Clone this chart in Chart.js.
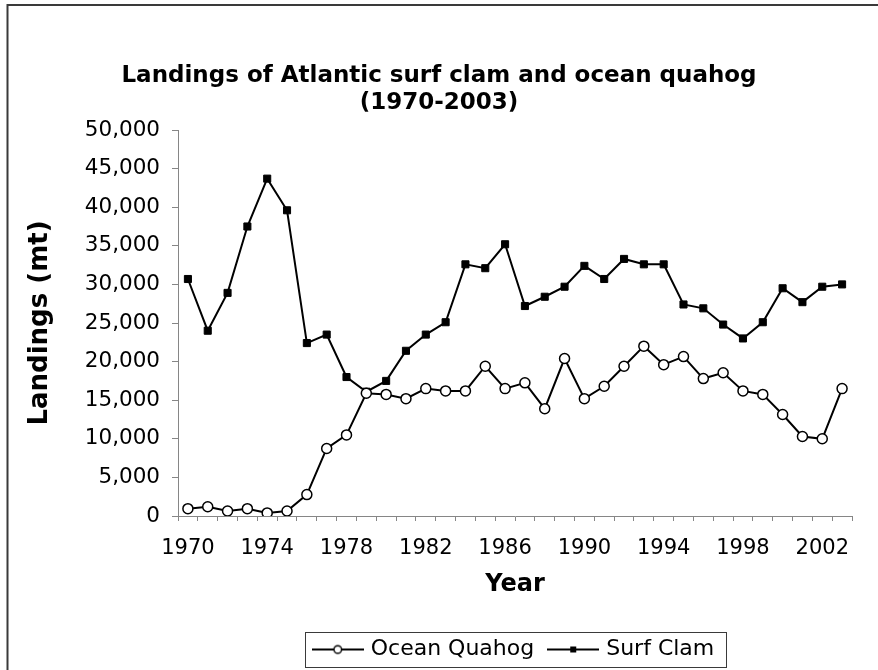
<!DOCTYPE html>
<html>
<head>
<meta charset="utf-8">
<title>Landings of Atlantic surf clam and ocean quahog</title>
<script src="https://cdn.jsdelivr.net/npm/chart.js@4/dist/chart.umd.min.js"></script>
<style>
  html, body { margin: 0; padding: 0; background: #ffffff; }
  canvas { display: block; }
</style>
</head>
<body>
<canvas id="landings" width="878" height="670"></canvas>
<script>
// Landing years and the two series, in metric tonnes
const years = [1970, 1971, 1972, 1973, 1974, 1975, 1976, 1977, 1978, 1979,
               1980, 1981, 1982, 1983, 1984, 1985, 1986, 1987, 1988, 1989,
               1990, 1991, 1992, 1993, 1994, 1995, 1996, 1997, 1998, 1999,
               2000, 2001, 2002, 2003];

const oceanQuahog = [950, 1200, 650, 950, 400, 650, 2770, 8750, 10500, 15900,
                     15750, 15200, 16500, 16200, 16200, 19400, 16500, 17250, 13900, 20400,
                     15200, 16800, 19400, 22000, 19600, 20650, 17800, 18550, 16200, 15750,
                     13150, 10300, 10000, 16500];

const surfClam = [30700, 24000, 28900, 37500, 43700, 39600, 22400, 23500, 18000, 16100,
                  17500, 21400, 23500, 25100, 32600, 32100, 35200, 27200, 28400, 29700,
                  32400, 30700, 33300, 32600, 32600, 27400, 26900, 24800, 23000, 25100,
                  29500, 27700, 29700, 30000];

// Years that carry a label on the category axis
const labelledYears = [1970, 1974, 1978, 1982, 1986, 1990, 1994, 1998, 2002];

const FONT = 'DejaVu Sans';
const AXIS_GREY = '#868686';

Chart.defaults.color = '#000000';
Chart.defaults.font.family = FONT;

// Small line-with-marker swatches for the legend
function legendSwatch(kind) {
  const c = document.createElement('canvas');
  c.width = 52; c.height = 16;
  const g = c.getContext('2d');
  g.fillStyle = '#000';
  g.fillRect(0, 7, 52, 2);
  if (kind === 'circle') {
    g.fillStyle = '#fff'; g.strokeStyle = '#000'; g.lineWidth = 1.4;
    g.beginPath(); g.arc(26, 8, 3.8, 0, Math.PI * 2); g.fill(); g.stroke();
  } else {
    g.fillStyle = '#000';
    g.fillRect(23, 5, 6, 6);
  }
  return c;
}

// Outer frame of the chart
const framePlugin = {
  id: 'frame',
  beforeDraw(chart) {
    const ctx = chart.ctx;
    ctx.save();
    ctx.fillStyle = '#ffffff';
    ctx.fillRect(0, 0, chart.width, chart.height);
    ctx.strokeStyle = '#3a3a3a';
    ctx.lineWidth = 2;
    ctx.beginPath();
    ctx.moveTo(7.5, chart.height);
    ctx.lineTo(7.5, 5);
    ctx.lineTo(chart.width, 5);
    ctx.stroke();
    ctx.restore();
  }
};

// Centre the legend under the plot area and box it in
const legendBoxPlugin = {
  id: 'legendBox',
  afterLayout(chart) {
    const lg = chart.legend;
    if (lg) { lg.left = chart.chartArea.left; lg.right = chart.chartArea.right; }
  },
  afterDraw(chart) {
    const lg = chart.legend;
    if (!lg || !lg.legendHitBoxes.length) return;
    const boxes = lg.legendHitBoxes;
    const left = Math.min(...boxes.map(b => b.left)) - 11;
    const right = Math.max(...boxes.map(b => b.left + b.width)) + 11;
    const ctx = chart.ctx;
    ctx.save();
    ctx.strokeStyle = '#3a3a3a';
    ctx.lineWidth = 1;
    ctx.strokeRect(Math.round(left) + 0.5, Math.round(lg.top + 10.5) + 0.5, Math.round(right - left), 35);
    ctx.restore();
  }
};

new Chart(document.getElementById('landings'), {
  type: 'line',
  data: {
    labels: years.map(String),
    datasets: [
      {
        label: 'Ocean Quahog',
        data: oceanQuahog,
        borderColor: '#000000',
        borderWidth: 2,
        pointStyle: 'circle',
        pointRadius: 5,
        pointBorderWidth: 1.5,
        pointBackgroundColor: '#ffffff',
        pointBorderColor: '#000000',
        tension: 0
      },
      {
        label: 'Surf Clam',
        data: surfClam,
        borderColor: '#000000',
        borderWidth: 2,
        pointStyle: 'rect',
        pointRadius: 5,
        pointBorderWidth: 1,
        pointBackgroundColor: '#000000',
        pointBorderColor: '#000000',
        tension: 0
      }
    ]
  },
  options: {
    responsive: false,
    animation: false,
    events: [],
    layout: { padding: { left: 0, right: 0, top: 0, bottom: -0.5 } },
    plugins: {
      title: {
        display: true,
        text: ['Landings of Atlantic surf clam and ocean quahog', '(1970-2003)'],
        color: '#000000',
        font: { family: FONT, size: 23, weight: 'bold', lineHeight: 27 / 23 },
        padding: { top: 62.5, bottom: 13.5 }
      },
      legend: {
        display: true,
        position: 'bottom',
        labels: {
          color: '#000000',
          font: { family: FONT, size: 22 },
          usePointStyle: true,
          pointStyleWidth: 44,
          padding: 17,
          generateLabels(chart) {
            return chart.data.datasets.map((ds, i) => ({
              text: ds.label,
              datasetIndex: i,
              pointStyle: legendSwatch(i === 0 ? 'circle' : 'rect'),
              fontColor: '#000000',
              lineWidth: 0,
              hidden: false
            }));
          }
        }
      },
      tooltip: { enabled: false }
    },
    scales: {
      x: {
        type: 'category',
        offset: true,
        grid: {
          offset: true,
          drawOnChartArea: false,
          drawTicks: true,
          tickLength: 5,
          color: AXIS_GREY,
          lineWidth: 1
        },
        border: { display: true, color: AXIS_GREY, width: 1 },
        ticks: {
          autoSkip: false,
          maxRotation: 0,
          minRotation: 0,
          padding: 15,
          color: '#000000',
          font: { family: FONT, size: 21 },
          callback(value, index) {
            return labelledYears.includes(years[index]) ? String(years[index]) : '';
          }
        },
        title: {
          display: true,
          text: 'Year',
          color: '#000000',
          font: { family: FONT, size: 24, weight: 'bold', lineHeight: 1.2 },
          padding: { top: 0, bottom: 22 }
        },
        afterFit(scale) { scale.height = 105.5; }
      },
      y: {
        type: 'linear',
        position: 'left',
        min: 0,
        max: 50000,
        grid: {
          drawOnChartArea: false,
          drawTicks: true,
          tickLength: 6,
          color: AXIS_GREY,
          lineWidth: 1
        },
        border: { display: true, color: AXIS_GREY, width: 1 },
        ticks: {
          stepSize: 5000,
          padding: 12,
          color: '#000000',
          font: { family: FONT, size: 21.5 },
          callback(value) { return Number(value).toLocaleString('en-US'); }
        },
        title: {
          display: true,
          text: 'Landings (mt)',
          color: '#000000',
          font: { family: FONT, size: 26, weight: 'bold', lineHeight: 1.2 },
          padding: { top: 25, bottom: 0 }
        },
        afterFit(scale) { scale.width = 178; }
      },
      gutter: {
        type: 'linear',
        position: 'right',
        display: true,
        grid: { display: false },
        border: { display: false },
        ticks: { display: false },
        afterFit(scale) { scale.width = 26; }
      }
    }
  },
  plugins: [framePlugin, legendBoxPlugin]
});
</script>
</body>
</html>
